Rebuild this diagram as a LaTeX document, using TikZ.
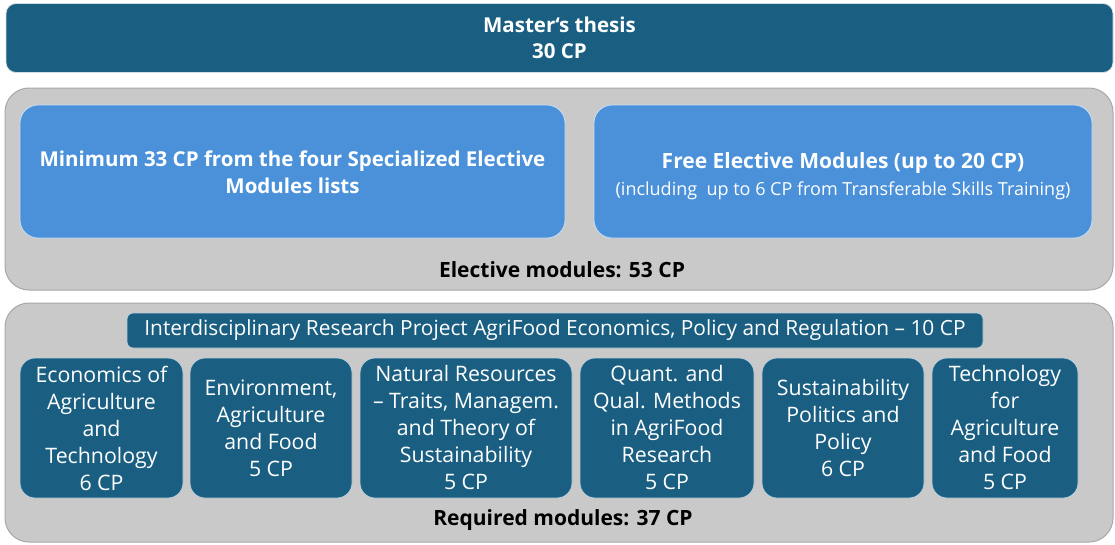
\documentclass[tikz,border=0pt]{standalone}
\usepackage{fontspec}
\setmainfont{Open Sans}
\definecolor{teal}{HTML}{1A5F82}
\definecolor{skyb}{HTML}{4A91DA}
\definecolor{panel}{HTML}{C9C9C9}
\definecolor{panelline}{HTML}{A8A8A8}
\begin{document}
\begin{tikzpicture}[x=1pt,y=-1pt,
  panelbox/.style={fill=panel,draw=panelline,line width=1pt,rounded corners=24pt,inner sep=0pt},
  topbar/.style={fill=teal,draw=white!80!teal,line width=0.8pt,rounded corners=10pt,inner sep=0pt,text=white,align=center,font=\bfseries\fontsize{20.5}{26}\selectfont},
  bluebox/.style={fill=skyb,draw=white!70!skyb,line width=0.8pt,rounded corners=18pt,inner sep=0pt},
  bluetext/.style={text=white,align=center,inner sep=0pt,font=\bfseries\fontsize{21}{27}\selectfont},
  modbox/.style={fill=teal,draw=white!70!teal,line width=0.8pt,rounded corners=15pt,inner sep=0pt,text=white,align=center,font=\fontsize{21.3}{27}\selectfont},
  projbar/.style={fill=teal,draw=white!70!teal,line width=0.8pt,rounded corners=6pt,inner sep=0pt,text=white,align=center,font=\fontsize{20.9}{25}\selectfont},
  sumlabel/.style={text=black,font=\bfseries\fontsize{21}{24}\selectfont,inner sep=0pt}]
\useasboundingbox (0,0) rectangle (1115,544);
\fill[white] (0,0) rectangle (1115,544);
% Master's thesis
\node[topbar,minimum width=1107pt,minimum height=69pt] (thesis) at (559.5,38) {Master‘s thesis\\30 CP};
% Elective panel
\node[panelbox,minimum width=1108pt,minimum height=202pt] (elective) at (559,189) {};
\node[bluebox,minimum width=545pt,minimum height=133pt] (spec) at (292.5,171.5) {};
\node[bluetext,font=\bfseries\fontsize{20.5}{27}\selectfont] (spectext) at (292.5,172.5) {Minimum 33 CP from the four Specialized Elective\\Modules lists};
\node[bluebox,minimum width=498pt,minimum height=133pt] (free) at (843,171.5) {};
\node[bluetext] (freetext) at (843,176) {Free Elective Modules (up to 20 CP)\\{\mdseries\fontsize{18}{24}\selectfont (including\ \ up to 6 CP from Transferable Skills Training)}};
\node[sumlabel] (electlabel) at (562,270) {Elective modules: 53 CP};
% Required panel
\node[panelbox,minimum width=1108pt,minimum height=239pt] (required) at (559,422.5) {};
\node[projbar,minimum width=856pt,minimum height=35pt] (project) at (555,330.5) {Interdisciplinary Research Project AgriFood Economics, Policy and Regulation – 10 CP};
\node[modbox,minimum width=163pt,minimum height=140pt] (m1) at (101.5,428) {Economics of\\Agriculture\\and\\Technology\\6 CP};
\node[modbox,minimum width=162pt,minimum height=140pt] (m2) at (271,428) {Environment,\\Agriculture\\and Food\\5 CP};
\node[modbox,minimum width=212pt,minimum height=140pt] (m3) at (466,428) {Natural Resources\\– Traits, Managem.\\and Theory of\\Sustainability\\5 CP};
\node[modbox,minimum width=174pt,minimum height=140pt] (m4) at (667,428) {Quant. and\\Qual. Methods\\in AgriFood\\Research\\5 CP};
\node[modbox,minimum width=162pt,minimum height=140pt] (m5) at (843,428) {Sustainability\\Politics and\\Policy\\6 CP};
\node[modbox,minimum width=146pt,minimum height=140pt] (m6) at (1005,428) {Technology\\for\\Agriculture\\and Food\\5 CP};
\node[sumlabel] (reqlabel) at (563,520) {Required modules: 37 CP};
\end{tikzpicture}
\end{document}
